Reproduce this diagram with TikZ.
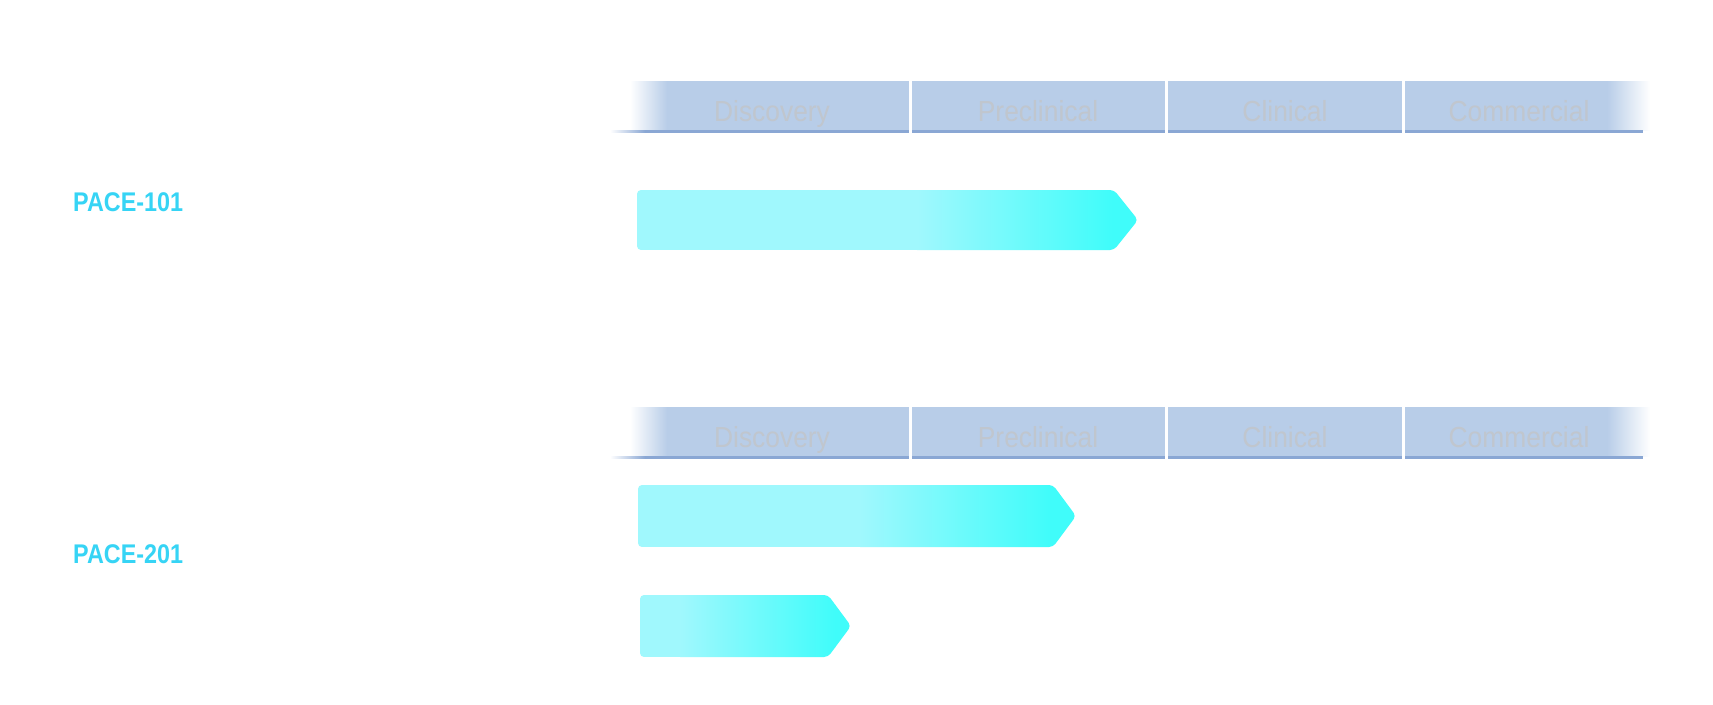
\documentclass[tikz,border=0pt]{standalone}
\usepackage{fontspec}
\setmainfont{Liberation Sans}
\newfontfamily\hdrfont{Liberation Sans}[FakeStretch=0.91]
\newfontfamily\pacefont{Liberation Sans Bold}[FakeStretch=0.865]
\definecolor{band}{RGB}{184,205,232}
\definecolor{bandline}{RGB}{138,167,212}
\definecolor{hdrtext}{RGB}{192,198,206}
\definecolor{pacecol}{RGB}{54,212,245}
\definecolor{barlight}{RGB}{160,248,253}
\definecolor{barstrong}{RGB}{64,252,250}
\tikzset{
  hdrlabel/.style={anchor=base, inner sep=0pt, text=hdrtext, font=\hdrfont\fontsize{29}{29}\selectfont},
  pacelabel/.style={anchor=west, inner sep=0pt, text=pacecol, font=\pacefont\fontsize{27}{27}\selectfont},
}
\newcommand\drawheader[2]{% #1 top y, #2 name prefix
  \shade[left color=white, right color=band] (630,#1) rectangle (667,{#1+49});
  \fill[band] (667,#1) rectangle (1607,{#1+49});
  \shade[left color=band, right color=white] (1607,#1) rectangle (1650,{#1+49});
  \shade[left color=white, right color=bandline] (610,{#1+49}) rectangle (645,{#1+51.5});
  \fill[bandline] (645,{#1+49}) rectangle (1643,{#1+51.5});
  \fill[white] (908.5,#1) rectangle (911.5,{#1+52});
  \fill[white] (1164.5,#1) rectangle (1167.5,{#1+52});
  \fill[white] (1401.5,#1) rectangle (1404.5,{#1+52});
  \node[hdrlabel] (#2disc) at (772,{#1+40.5}) {Discovery};
  \node[hdrlabel] (#2prec) at (1038,{#1+40.5}) {Preclinical};
  \node[hdrlabel] (#2clin) at (1285,{#1+40.5}) {Clinical};
  \node[hdrlabel] (#2comm) at (1519,{#1+40.5}) {Commercial};
}
\newcommand\drawbar[7]{% #1 left, #2 top, #3 bottom, #4 corner x, #5 tip x, #6 grad start, #7 grad end
  \begin{scope}
    \clip[rounded corners=4pt] (#1,#2) -- (#4,#2) -- (#5,{(#2+#3)/2}) -- (#4,#3) -- (#1,#3) -- cycle;
    \fill[barlight] (#1,#2) rectangle (#6,#3);
    \shade[left color=barlight, right color=barstrong] (#6,#2) rectangle (#7,#3);
    \fill[barstrong] (#7,#2) rectangle (#5,#3);
  \end{scope}
}
\begin{document}
\begin{tikzpicture}[x=1pt,y=-1pt]
  \useasboundingbox[fill=white] (0,0) rectangle (1713,704);
  \drawheader{81}{a}
  \drawheader{407}{b}
  \node[pacelabel] (pace101) at (73,202) {PACE-101};
  \node[pacelabel] (pace201) at (73,554) {PACE-201};
  \drawbar{637}{190}{250}{1114}{1138}{917}{1112}
  \drawbar{638}{485}{547}{1053}{1076}{860}{1050}
  \drawbar{640}{595}{657}{828}{851}{680}{835}
\end{tikzpicture}
\end{document}
